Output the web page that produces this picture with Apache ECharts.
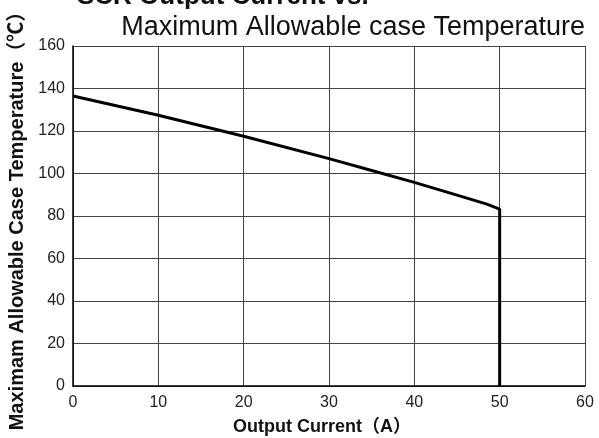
<!DOCTYPE html>
<html>
<head>
<meta charset="utf-8">
<script src="https://cdn.jsdelivr.net/npm/echarts@6/dist/echarts.min.js"></script>
<style>
  html, body { margin: 0; padding: 0; background: #fff; }
  #chart { width: 599px; height: 438px; }
</style>
</head>
<body>
<div id="chart"></div>
<script>
// derating curve: output current (A) vs max case temperature (°C)
const currentA = [0, 10, 20, 30, 35, 40, 45, 48.5, 50, 50];
const caseTemp = [136.5, 127.4, 117.5, 107, 101.4, 95.8, 89.8, 85.6, 83.2, 0];
const xTicks = [0, 10, 20, 30, 40, 50, 60];
const yTicks = [0, 20, 40, 60, 80, 100, 120, 140, 160];

const FONT = "'Liberation Sans', Arial, 'Noto Sans CJK JP', sans-serif";

const chart = echarts.init(document.getElementById("chart"), null, { renderer: "canvas" });

chart.setOption({
  animation: false,
  textStyle: { fontFamily: FONT },
  title: [
    {
      text: "SCR Output Current vs.",
      left: 72, top: -21,
      textStyle: { fontSize: 26, fontWeight: "bold", color: "#111", fontFamily: FONT },
    },
    {
      text: "Maximum Allowable case Temperature",
      right: 9, top: 9,
      textStyle: { fontSize: 27, fontWeight: "normal", color: "#111", fontFamily: FONT },
    },
  ],
  grid: { left: 73, right: 14, top: 46, bottom: 52, outerBoundsMode: "none" },
  xAxis: {
    type: "value",
    min: xTicks[0], max: xTicks[xTicks.length - 1], interval: 10,
    name: "Output Current（A）",
    nameLocation: "middle", nameGap: 32,
    nameTextStyle: { fontSize: 18, fontWeight: "bold", color: "#111", padding: [0, 14, 0, 0] },
    axisLine: { lineStyle: { color: "#000", width: 1.5 } },
    axisTick: { show: false },
    axisLabel: { fontSize: 16, color: "#222", margin: 9 },
    splitLine: { show: true, lineStyle: { color: "#444", width: 1 } },
  },
  yAxis: {
    type: "value",
    min: yTicks[0], max: yTicks[yTicks.length - 1], interval: 20,
    name: "Maximam Allowable Case Temperature（℃）",
    nameLocation: "middle", nameGap: 46,
    nameTextStyle: { fontSize: 20, fontWeight: "bold", color: "#111" },
    axisLine: { show: true, lineStyle: { color: "#000", width: 1.5 } },
    axisTick: { show: false },
    axisLabel: { fontSize: 16, color: "#222", margin: 8 },
    splitLine: { show: true, lineStyle: { color: "#444", width: 1 } },
  },
  series: [
    {
      type: "line",
      data: currentA.map((x, i) => [x, caseTemp[i]]),
      showSymbol: false,
      lineStyle: { color: "#000", width: 3 },
      z: 5,
    },
  ],
});
</script>
</body>
</html>
